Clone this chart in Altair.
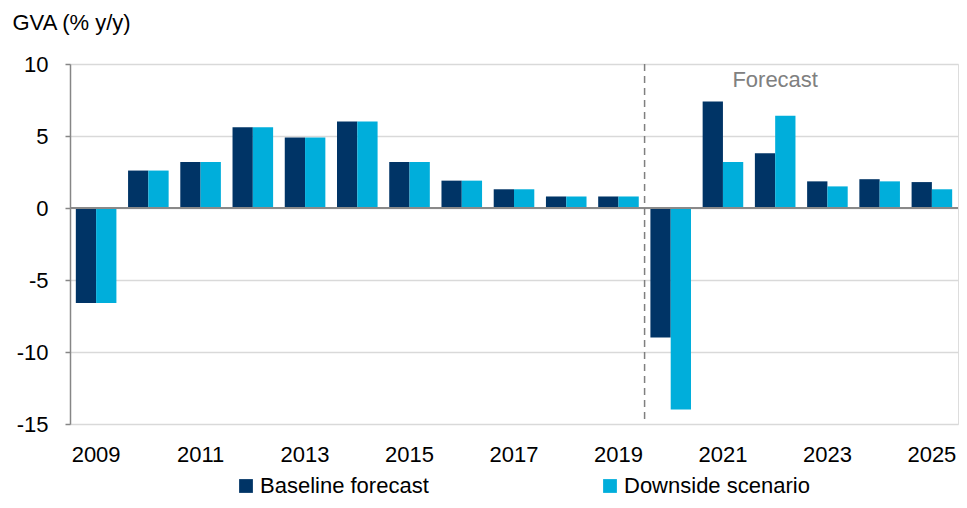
import altair as alt
import pandas as pd

years = [str(y) for y in range(2009, 2026)]
baseline = [-6.6, 2.6, 3.2, 5.6, 4.9, 6.0, 3.2, 1.9, 1.3, 0.8, 0.8, -9.0, 7.4, 3.8, 1.85, 2.0, 1.8]
downside = [-6.6, 2.6, 3.2, 5.6, 4.9, 6.0, 3.2, 1.9, 1.3, 0.8, 0.8, -14.0, 3.2, 6.4, 1.5, 1.85, 1.3]
series_names = ["Baseline forecast", "Downside scenario"]
series_colors = ["#003466", "#00AEDB"]
label_years = [str(y) for y in range(2009, 2026, 2)]
y_ticks = [-15, -10, -5, 0, 5, 10]

rows = []
for i, yr in enumerate(years):
    rows.append({"year": yr, "series": series_names[0], "value": baseline[i]})
    rows.append({"year": yr, "series": series_names[1], "value": downside[i]})
df = pd.DataFrame(rows)

FONT = "Liberation Sans"
FS = 22

xscale = alt.Scale(domain=years, paddingInner=0, paddingOuter=0)
yscale = alt.Scale(domain=[-15, 10], nice=False)

bars = alt.Chart(df).mark_bar().encode(
    x=alt.X("year:N", scale=xscale,
            axis=alt.Axis(values=label_years, title=None, labelAngle=0, domain=False,
                          ticks=False, labelPadding=20, labelFontSize=FS, labelFont=FONT,
                          labelColor="#000000", grid=False)),
    xOffset=alt.XOffset("series:N", scale=alt.Scale(domain=series_names, paddingOuter=0.287, paddingInner=0)),
    y=alt.Y("value:Q", scale=yscale,
            axis=alt.Axis(values=y_ticks, title="GVA (% y/y)", titleAngle=0, titleAlign="left",
                          titleBaseline="alphabetic", titleX=-58, titleY=-35,
                          titleFontSize=FS, titleFont=FONT, titleFontWeight="normal",
                          titleColor="#000000",
                          labelExpr="toString(datum.value)",
                          labelFontSize=FS, labelFont=FONT, labelColor="#000000",
                          labelPadding=17, tickSize=5, tickColor="#868686", tickWidth=1.5,
                          domainColor="#868686", domainWidth=1.5,
                          grid=True, gridColor="#d9d9d9", gridWidth=1.5)),
    color=alt.Color("series:N", scale=alt.Scale(domain=series_names, range=series_colors),
                    legend=alt.Legend(title=None, orient="none", legendX=165, legendY=411,
                                      direction="horizontal", columns=2, columnPadding=170,
                                      symbolType="square", symbolSize=190, symbolStrokeWidth=0,
                                      labelFontSize=FS, labelFont=FONT, labelColor="#000000",
                                      labelOffset=3, labelLimit=400)),
)

zero_df = pd.DataFrame({"v": [0]})
zero = alt.Chart(zero_df).mark_rule(color="#898989", strokeWidth=2).encode(y=alt.Y("v:Q", scale=yscale))

div_df = pd.DataFrame({"year": ["2020"]})
divider = alt.Chart(div_df).mark_rule(color="#7f7f7f", strokeWidth=1.5, strokeDash=[7, 5]).encode(
    x=alt.X("year:N", scale=xscale, bandPosition=0)
)

ann_df = pd.DataFrame({"year": ["2022"], "v": [8.9], "t": ["Forecast"]})
ann = alt.Chart(ann_df).mark_text(font=FONT, fontSize=FS, color="#808080", baseline="middle",
                                  align="center").encode(
    x=alt.X("year:N", scale=xscale), y=alt.Y("v:Q", scale=yscale), text="t:N"
)

chart = alt.layer(bars, zero, divider, ann).properties(
    width=888, height=360,
    autosize=alt.AutoSizeParams(type="none"),
    padding={"left": 62, "top": 56, "right": 1, "bottom": 76},
).configure_view(stroke=None).configure(background="white")

chart.save("out.html", embed_options={"renderer": "svg", "actions": False})
